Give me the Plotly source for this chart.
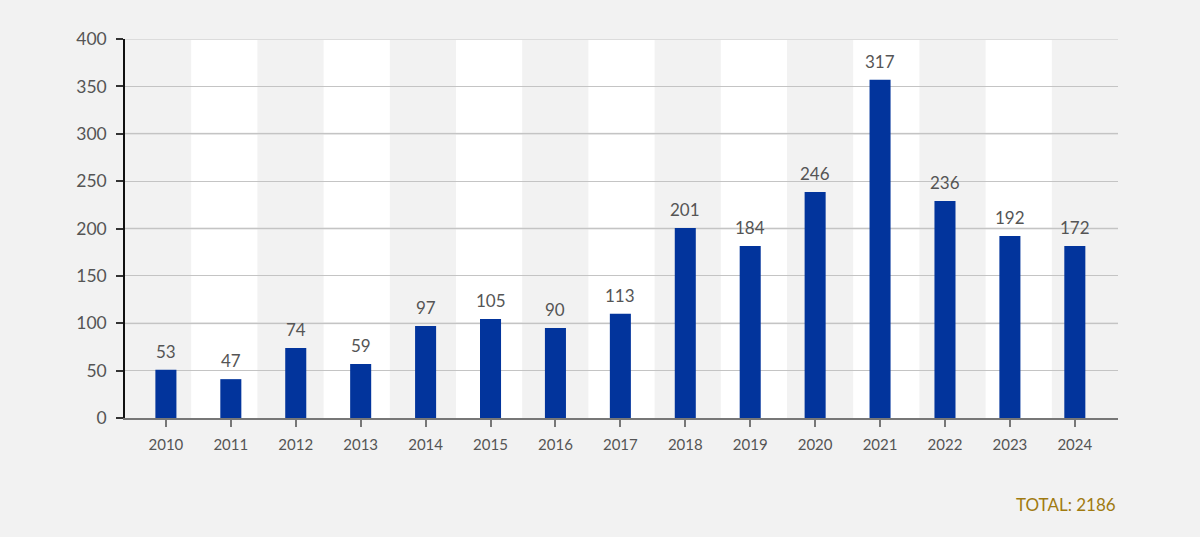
import plotly.graph_objects as go

years = ["2010", "2011", "2012", "2013", "2014", "2015", "2016", "2017",
         "2018", "2019", "2020", "2021", "2022", "2023", "2024"]
bar_values = [51, 41, 74, 57, 97, 104.5, 95, 110, 200.5, 181.5, 238.5, 357, 229, 192, 181.5]
bar_labels = ["53", "47", "74", "59", "97", "105", "90", "113",
              "201", "184", "246", "317", "236", "192", "172"]
y_ticks = [0, 50, 100, 150, 200, 250, 300, 350, 400]
total_text = "TOTAL: 2186"

BG = "#f2f2f2"
BAR = "#02349c"
TXT = "#555555"
FONT = "Lato"

n = len(years)

fig = go.Figure()
fig.add_trace(go.Bar(
    x=years, y=bar_values, marker=dict(color=BAR, line=dict(width=0)),
    width=0.324, hoverinfo="skip",
))

shapes = []
# alternating white column bands (equal slices of the plot width)
for i in range(n):
    if i % 2 == 1:
        shapes.append(dict(type="rect", xref="paper", yref="paper",
                           x0=i / n, x1=(i + 1) / n, y0=0, y1=1,
                           fillcolor="white", line=dict(width=0), layer="below"))
# lighter, thicker gridlines at hundreds
for v in y_ticks:
    if v % 100 == 0 and v > 0:
        shapes.append(dict(type="line", xref="paper", yref="y",
                           x0=0, x1=1, y0=v, y1=v,
                           line=dict(color="#dcdcdc", width=2), layer="between"))

annotations = []
for i, (v, lab) in enumerate(zip(bar_values, bar_labels)):
    annotations.append(dict(xref="x", yref="y", x=i, y=v, text=lab, showarrow=False,
                            xanchor="center", yanchor="bottom", yshift=6,
                            font=dict(family=FONT, size=17, color=TXT)))
annotations.append(dict(xref="paper", yref="paper", x=1.0, y=-0.227,
                        text=total_text, showarrow=False,
                        xanchor="right", yanchor="middle",
                        font=dict(family=FONT, size=17, color="#a07a10")))

fig.update_layout(
    width=1200, height=537,
    paper_bgcolor=BG, plot_bgcolor=BG,
    margin=dict(l=125, r=82, t=39, b=119),
    showlegend=False,
    shapes=shapes,
    annotations=annotations,
    font=dict(family=FONT, color=TXT),
    xaxis=dict(
        type="category", range=[-0.63, 14.665],
        showgrid=False, zeroline=False,
        showline=True, linecolor="#777777", linewidth=2,
        ticks="outside", ticklen=7, tickwidth=2, tickcolor="#777777",
        ticklabelstandoff=5,
        tickfont=dict(family=FONT, size=15, color=TXT),
        fixedrange=True,
    ),
    yaxis=dict(
        range=[0, 400], tickvals=y_ticks,
        showgrid=True, gridcolor="#c4c4c4", gridwidth=1,
        zeroline=False,
        showline=True, linecolor="#111111", linewidth=1.5,
        ticks="outside", ticklen=7, tickwidth=1.5, tickcolor="#333333",
        ticklabelstandoff=6,
        tickfont=dict(family=FONT, size=17.5, color=TXT),
        fixedrange=True,
    ),
)

fig.write_html("out.html", config={"displayModeBar": False},
               post_script="document.body.style.margin='0';document.body.style.overflow='hidden';")
